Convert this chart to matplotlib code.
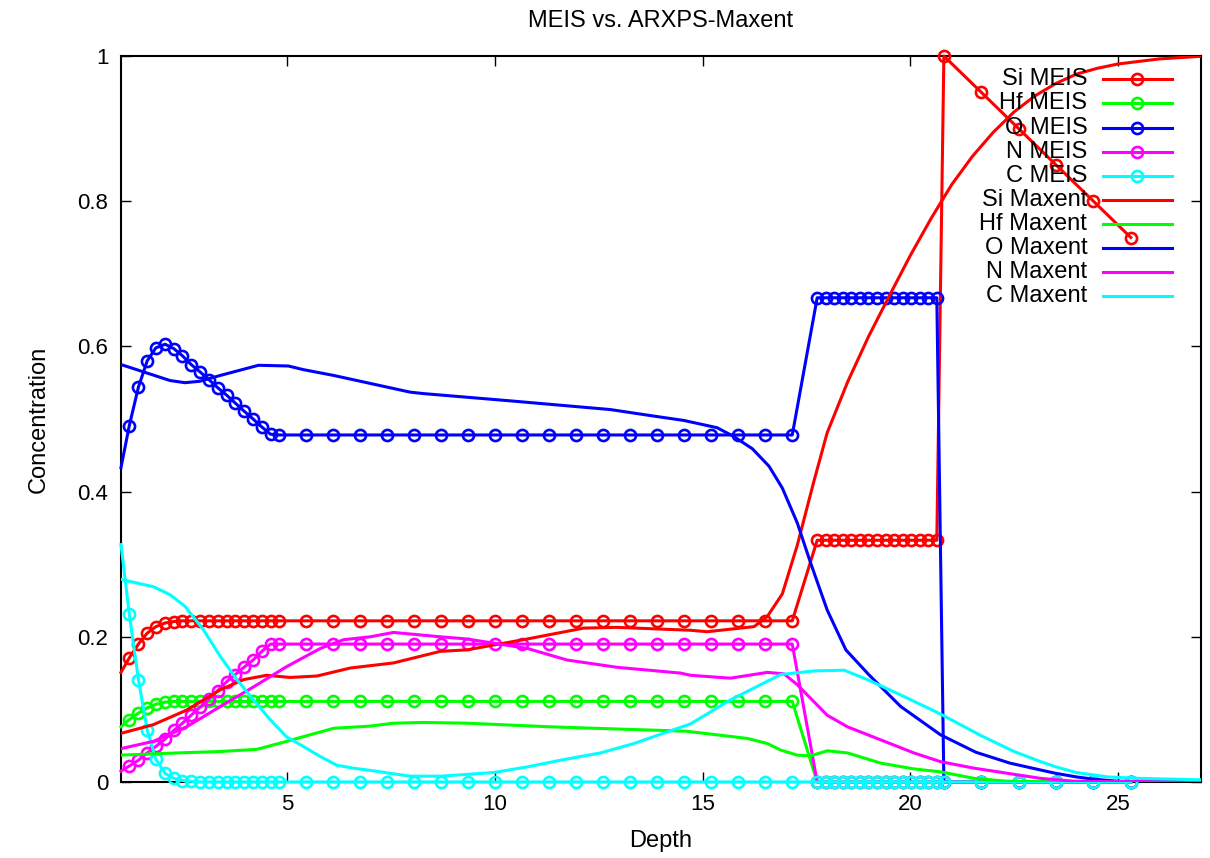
import matplotlib
matplotlib.use('Agg')
import matplotlib.pyplot as plt

plt.rcParams['font.family'] = ['Liberation Sans', 'DejaVu Sans']

# MEIS profiles (depth grid shared by all elements)
meis_depth = [1.00, 1.20, 1.42, 1.63, 1.84, 2.06, 2.27, 2.48, 2.69, 2.90, 3.12, 3.33, 3.54, 3.75, 3.96, 4.18, 4.39, 4.60, 4.81,
              5.46, 6.11, 6.76, 7.41, 8.06, 8.71, 9.36, 10.01, 10.66, 11.31, 11.96, 12.61, 13.26, 13.91, 14.56, 15.21, 15.86, 16.51, 17.16,
              17.76, 17.97, 18.17, 18.38, 18.58, 18.79, 18.99, 19.20, 19.41, 19.61, 19.82, 20.02, 20.23, 20.43, 20.64,
              20.81, 21.71, 22.61, 23.51, 24.41, 25.31]

si_meis = [0.151, 0.171, 0.190, 0.205, 0.214, 0.219, 0.221] + [0.222] * 12 + [0.222] * 19 + [0.333] * 15 + [1.0, 0.95, 0.90, 0.85, 0.80, 0.75]
hf_meis = [0.076, 0.086, 0.095, 0.102, 0.107, 0.110] + [0.111] * 13 + [0.111] * 19 + [0.0] * 15 + [0.0] * 6
o_meis = [0.433, 0.491, 0.544, 0.580, 0.598, 0.603, 0.597, 0.587, 0.575, 0.565, 0.554, 0.543, 0.533, 0.522, 0.511, 0.500, 0.489, 0.479, 0.478] \
         + [0.478] * 19 + [0.667] * 15 + [0.0] * 6
n_meis = [0.015, 0.022, 0.030, 0.040, 0.049, 0.059, 0.071, 0.081, 0.092, 0.103, 0.114, 0.126, 0.138, 0.148, 0.158, 0.168, 0.180, 0.190, 0.190] \
         + [0.190] * 19 + [0.0] * 15 + [0.0] * 6
c_meis = [0.327, 0.231, 0.141, 0.072, 0.031, 0.012, 0.005, 0.002, 0.001] + [0.0] * 10 + [0.0] * 19 + [0.0] * 15 + [0.0] * 6

# ARXPS-Maxent profiles
si_max_x = [1.0, 1.78, 2.58, 3.39, 3.95, 4.51, 5.07, 5.72, 6.52, 7.56, 8.69, 9.33, 10.78, 12.14, 12.94, 14.71, 15.11, 16.24, 16.56, 16.92,
            17.28, 17.68, 18.0, 18.5, 19.0, 19.5, 20.0, 20.5, 21.0, 21.5, 22.0, 22.5, 23.0, 23.5, 24.0, 24.5, 25.0, 26.0, 27.0]
si_max = [0.067, 0.079, 0.099, 0.127, 0.141, 0.147, 0.144, 0.146, 0.157, 0.164, 0.180, 0.182, 0.197, 0.212, 0.213, 0.209, 0.207, 0.214, 0.228, 0.259,
          0.326, 0.414, 0.481, 0.552, 0.614, 0.670, 0.725, 0.776, 0.823, 0.862, 0.895, 0.923, 0.945, 0.962, 0.975, 0.983, 0.989, 0.996, 0.9996]

hf_max_x = [1.0, 2.34, 3.39, 4.27, 4.99, 5.55, 6.12, 7.0, 7.56, 8.28, 9.33, 11.34, 12.94, 14.6, 16.08, 16.56, 16.88, 17.28, 17.6, 18.0,
            18.49, 19.29, 20.09, 20.73, 21.54, 22.34, 27.0]
hf_max = [0.037, 0.040, 0.042, 0.045, 0.056, 0.065, 0.074, 0.077, 0.081, 0.082, 0.081, 0.076, 0.073, 0.070, 0.060, 0.053, 0.044, 0.037, 0.036, 0.043,
          0.040, 0.026, 0.018, 0.014, 0.005, 0.001, 0.0]

o_max_x = [1.0, 2.18, 2.54, 2.90, 3.39, 4.31, 5.03, 5.39, 6.12, 7.0, 7.96, 8.28, 10.37, 12.78, 13.83, 14.55, 14.95, 15.35, 15.75, 16.2,
           16.6, 16.92, 17.28, 17.6, 18.0, 18.45, 19.0, 19.77, 20.73, 21.58, 22.4, 23.1, 23.5, 24.0, 24.4, 25.0, 27.0]
o_max = [0.575, 0.553, 0.550, 0.552, 0.560, 0.574, 0.573, 0.568, 0.560, 0.549, 0.537, 0.535, 0.525, 0.513, 0.504, 0.498, 0.493, 0.488, 0.476, 0.459,
         0.435, 0.405, 0.357, 0.302, 0.237, 0.182, 0.148, 0.104, 0.065, 0.041, 0.026, 0.017, 0.012, 0.007, 0.004, 0.001, 0.0]

n_max_x = [1.0, 1.78, 2.58, 3.39, 4.19, 4.99, 5.8, 6.36, 7.0, 7.56, 8.69, 9.33, 10.78, 11.74, 12.94, 14.47, 14.71, 15.67, 16.56, 16.96,
           17.28, 18.0, 18.49, 19.29, 20.09, 20.73, 21.54, 22.34, 23.14, 23.95, 27.0]
n_max = [0.046, 0.056, 0.076, 0.104, 0.131, 0.159, 0.184, 0.196, 0.200, 0.206, 0.200, 0.197, 0.184, 0.168, 0.158, 0.150, 0.147, 0.143, 0.151, 0.149,
         0.134, 0.092, 0.076, 0.058, 0.040, 0.028, 0.019, 0.012, 0.005, 0.001, 0.0]

c_max_x = [1.0, 1.78, 2.18, 2.54, 2.98, 3.39, 3.79, 4.19, 4.59, 4.99, 5.39, 5.8, 6.2, 6.6, 7.0, 7.96, 8.69, 9.97, 10.8, 11.58,
           12.54, 13.35, 14.0, 14.71, 15.67, 16.88, 17.68, 18.41, 18.97, 19.69, 20.5, 20.78, 21.7, 22.5, 23.14, 23.5, 24.0, 24.75, 25.5, 27.0]
c_max = [0.279, 0.269, 0.258, 0.242, 0.210, 0.173, 0.141, 0.113, 0.086, 0.062, 0.049, 0.035, 0.023, 0.019, 0.016, 0.008, 0.008, 0.013, 0.021, 0.030,
         0.040, 0.053, 0.066, 0.080, 0.113, 0.148, 0.153, 0.154, 0.141, 0.122, 0.100, 0.092, 0.064, 0.042, 0.028, 0.021, 0.013, 0.007, 0.005, 0.003]

colors = ['#ff0000', '#00ff00', '#0000ff', '#ff00ff', '#00ffff']
meis = [('Si MEIS', si_meis), ('Hf MEIS', hf_meis), ('O MEIS', o_meis), ('N MEIS', n_meis), ('C MEIS', c_meis)]
maxent = [('Si Maxent', si_max_x, si_max), ('Hf Maxent', hf_max_x, hf_max), ('O Maxent', o_max_x, o_max),
          ('N Maxent', n_max_x, n_max), ('C Maxent', c_max_x, c_max)]

fig = plt.figure(figsize=(12.1, 8.58), dpi=100)
ax = fig.add_axes([121/1210, 1 - 782/858, 1080/1210, 726/858])

lw = 2.2
mstyle = dict(marker='o', markersize=8, markerfacecolor='none', markeredgewidth=1.9)

for (name, vals), col in zip(meis, colors):
    ax.plot(meis_depth, vals, color=col, lw=lw, markevery=slice(1, None), clip_on=False, zorder=3, **mstyle)
for (name, xs, vals), col in zip(maxent, colors):
    ax.plot(xs, vals, color=col, lw=lw, zorder=3)

ax.set_xlim(1, 27)
ax.set_ylim(0, 1)
ax.set_xticks([5, 10, 15, 20, 25])
ax.set_yticks([0, 0.2, 0.4, 0.6, 0.8, 1.0])
ax.set_yticklabels(['0', '0.2', '0.4', '0.6', '0.8', '1'])
ax.tick_params(direction='in', length=7, width=1, top=True, right=True, labelsize=16, pad=9)
for s in ax.spines.values():
    s.set_linewidth(1.5)

ax.set_title('MEIS vs. ARXPS-Maxent', fontsize=17, pad=21)
ax.set_xlabel('Depth', fontsize=17)
ax.set_ylabel('Concentration', fontsize=17)
ax.xaxis.set_label_coords(0.5, -0.066)
ax.yaxis.set_label_coords(-0.066, 0.5)

# gnuplot style key: right-aligned text, sample line on the right
labels = [m[0] for m in meis] + [m[0] for m in maxent]
for i, lab in enumerate(labels):
    py = 79.3 + 24.1 * i
    y = (782 - py) / 726
    col = colors[i % 5]
    ax.text(0.8947, y, lab, transform=ax.transAxes, ha='right', va='center', fontsize=17, zorder=5)
    ax.plot([0.9095, 0.9729], [y, y], transform=ax.transAxes, color=col, lw=lw, clip_on=False, zorder=5)
    if i < 5:
        ax.plot([0.941], [y], transform=ax.transAxes, color=col, clip_on=False, zorder=5, **mstyle)

fig.savefig('out.png', dpi=100)
